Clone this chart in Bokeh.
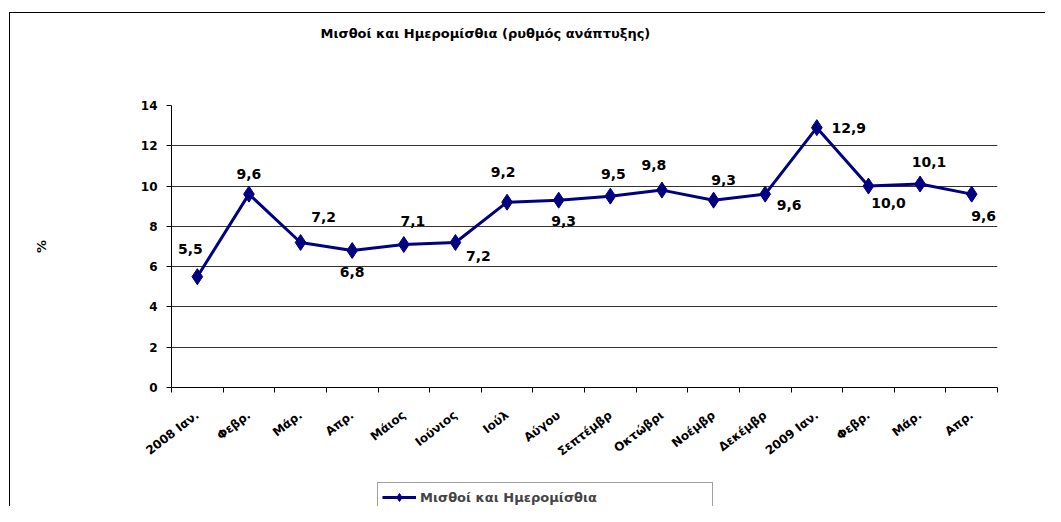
from bokeh.plotting import figure
from bokeh.layouts import column
from bokeh.models import ColumnDataSource, FixedTicker, LabelSet, Legend, LegendItem, Title
from bokeh.core.properties import value
from bokeh.embed import file_html
from bokeh.resources import INLINE

categories = ["2008 Ιαν.", "Φεβρ.", "Μάρ.", "Απρ.", "Μάιος", "Ιούνιος", "Ιούλ", "Αύγου",
              "Σεπτέμβρ", "Οκτώβρι", "Νοέμβρ", "Δεκέμβρ", "2009 Ιαν.", "Φεβρ.", "Μάρ.", "Απρ."]
values = [5.5, 9.6, 7.2, 6.8, 7.1, 7.2, 9.2, 9.3, 9.5, 9.8, 9.3, 9.6, 12.9, 10.0, 10.1, 9.6]
y_ticks = [0, 2, 4, 6, 8, 10, 12, 14]
series_name = "Μισθοί και Ημερομίσθια"
title_text = "Μισθοί και Ημερομίσθια (ρυθμός ανάπτυξης)"

# label placement (pixels) relative to each point
label_dx = [-7, 0, 23, 0, 9, 23, -4, 5, 3, -8, 10, 24, 32, 20, 9, 12]
label_dy = [28, 20, 25, -21, 23, -14, 30, -21, 22, 25, 20, -11, 0, -17, 22, -22]

FONT = "DejaVu Sans"
NAVY = "#000080"

idx = list(range(len(categories)))
src = ColumnDataSource(dict(
    x=idx, y=values,
    txt=[f"{v:.1f}".replace(".", ",") for v in values],
    dx=label_dx, dy=label_dy,
))

p = figure(width=1045, height=476, x_range=(-0.5, len(categories) - 0.5), y_range=(0, 14),
           output_backend="svg", toolbar_location=None,
           min_border_left=171, min_border_right=48, min_border_top=105, min_border_bottom=89)
p.outline_line_color = None
p.background_fill_color = "white"
p.border_fill_color = None

# real title (outermost) and a spacer between it and the frame
p.title.text = title_text
p.title.align = "left"
p.title.offset = 149
p.title.standoff = 10
p.title.text_font = FONT
p.title.text_font_size = "13px"
p.title.text_font_style = "bold"
p.title.text_color = "black"
spacer = Title(text=" ", text_font_size="1px", standoff=57)
p.add_layout(spacer, "above")

# x axis
xa = p.xaxis[0]
xa.ticker = FixedTicker(ticks=idx, minor_ticks=[i - 0.5 for i in range(len(categories) + 1)])
xa.major_label_overrides = {i: c for i, c in enumerate(categories)}
xa.major_tick_line_color = None
xa.minor_tick_out = 5
xa.minor_tick_in = 0
xa.minor_tick_line_color = "black"
xa.axis_line_color = "black"
xa.major_label_orientation = 0.66
xa.major_label_standoff = 20
xa.major_label_text_font = FONT
xa.major_label_text_font_size = "12px"
xa.major_label_text_font_style = "bold"
xa.major_label_text_color = "black"

# y axis
ya = p.yaxis[0]
ya.ticker = FixedTicker(ticks=y_ticks)
ya.major_tick_out = 5
ya.major_tick_in = 0
ya.minor_tick_line_color = None
ya.major_tick_line_color = "black"
ya.axis_line_color = "black"
ya.major_label_standoff = 9
ya.major_label_text_font = FONT
ya.major_label_text_font_size = "12px"
ya.major_label_text_font_style = "bold"
ya.major_label_text_color = "black"
ya.axis_label = "%"
ya.axis_label_standoff = 89
ya.axis_label_text_font = FONT
ya.axis_label_text_font_size = "13px"
ya.axis_label_text_font_style = "bold"
ya.axis_label_text_color = "black"

p.xgrid.grid_line_color = None
p.ygrid.ticker = FixedTicker(ticks=y_ticks)
p.ygrid.grid_line_color = "#333333"
p.ygrid.grid_line_width = 1

line_style = dict(line_color=NAVY, line_width=3)
marker_style = dict(marker="diamond", size=16, fill_color=NAVY, line_color=NAVY)

p.line("x", "y", source=src, **line_style)
p.scatter("x", "y", source=src, **marker_style)

labels = LabelSet(x="x", y="y", text="txt", source=src, x_offset="dx", y_offset="dy",
                  text_align="center", text_baseline="middle",
                  text_font=value(FONT), text_font_size="14px", text_font_style="bold",
                  text_color="black")
p.add_layout(labels)

# legend strip below the chart (its series renderers fall outside its empty view)
lf = figure(width=1045, height=30, x_range=(-100, -99), y_range=(-100, -99),
            output_backend="svg", toolbar_location=None,
            min_border_left=0, min_border_right=0, min_border_top=0, min_border_bottom=0)
lf.axis.visible = False
lf.grid.grid_line_color = None
lf.outline_line_color = None
lf.background_fill_color = None
lf.border_fill_color = None
lg_line = lf.line("x", "y", source=src, **line_style)
lg_mark = lf.scatter("x", "y", source=src, **marker_style)
legend = Legend(items=[LegendItem(label=series_name, renderers=[lg_line, lg_mark])],
                location=(206, -6), orientation="horizontal",
                glyph_width=34, label_standoff=4, padding=4, margin=0,
                label_text_font=FONT, label_text_font_size="13px", label_text_font_style="bold",
                label_width=288, border_line_color="#444444", border_line_width=1,
                background_fill_alpha=1)
lf.add_layout(legend, "center")

layout = column(p, lf, spacing=0)
layout.styles = {
    "background-color": "white",
    "background-image": "linear-gradient(#000, #000), linear-gradient(#000, #000)",
    "background-size": "1px 100%, 100% 1px",
    "background-position": "9px 12px, 9px 12px",
    "background-repeat": "no-repeat",
}

open("out.html", "w").write(file_html(layout, INLINE))
